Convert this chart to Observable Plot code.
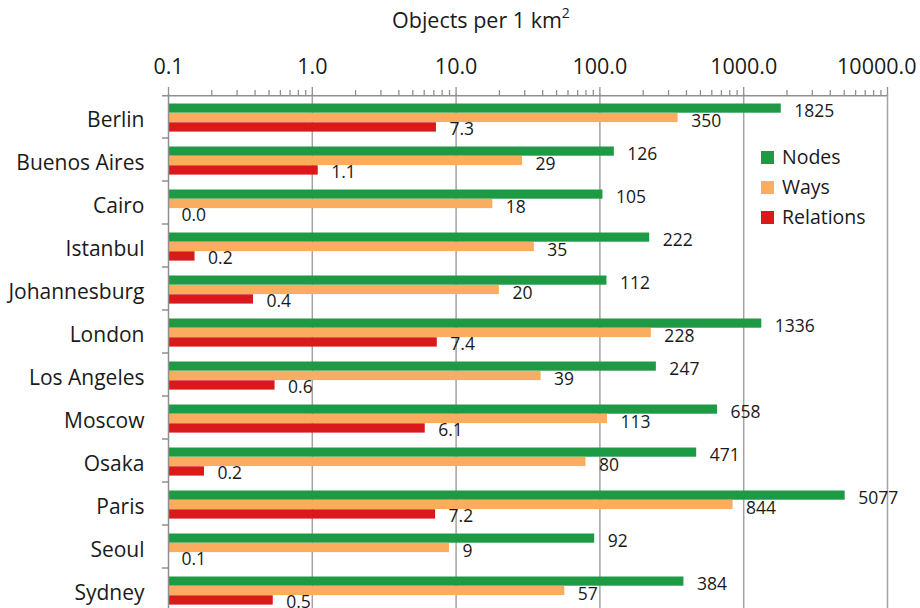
<!DOCTYPE html>
<html><head><meta charset="utf-8">
<script src="https://cdn.jsdelivr.net/npm/d3@7"></script>
<script src="https://cdn.jsdelivr.net/npm/@observablehq/plot@0.6"></script>
<style>
html,body{margin:0;padding:0;background:#fff;overflow:hidden;}
#wrap{position:relative;width:920px;height:608px;overflow:hidden;font-family:"Open Sans",sans-serif;color:#1a1a1a;}
#title{position:absolute;top:5px;left:392px;font-size:21.5px;white-space:nowrap;}
#title sup{font-size:14px;vertical-align:10px;line-height:0;}
#legend{position:absolute;left:761px;top:142px;font-size:19.5px;line-height:30px;}
#legend div{display:flex;align-items:center;}
#legend span.sw{display:inline-block;width:13px;height:13px;margin-right:8px;}
#chart{position:absolute;left:0;top:0;}
</style>
</head><body>
<div id="wrap">
  <div id="chart"></div>
  <div id="title">Objects per 1 km<sup>2</sup></div>
  <div id="legend"></div>
</div>
<script>
(function(){
// ---- data ----
const cities = ["Berlin","Buenos Aires","Cairo","Istanbul","Johannesburg","London","Los Angeles","Moscow","Osaka","Paris","Seoul","Sydney"];
const nodes     = [1825, 126, 105, 222, 112, 1336, 247, 658, 471, 5077, 92, 384];
const ways      = [350, 29, 18, 35, 20, 228, 39, 113, 80, 844, 9, 57];
const relations = [7.3, 1.1, 0.04, 0.153, 0.39, 7.4, 0.551, 6.1, 0.178, 7.2, 0.06, 0.535];
const seriesNames = ["Nodes","Ways","Relations"];
const seriesColors = ["#1e9944","#fbad5f","#d9191c"];
const majorTicks = [0.1, 1, 10, 100, 1000, 10000];
const tickLabels = ["0.1","1.0","10.0","100.0","1000.0","10000.0"];

// ---- table ----
const rows = [];
cities.forEach((c, i) => {
  rows.push({city: c, series: "Nodes", value: nodes[i], label: String(Math.round(nodes[i]))});
  rows.push({city: c, series: "Ways", value: ways[i], label: String(Math.round(ways[i]))});
  rows.push({city: c, series: "Relations", value: relations[i], label: relations[i].toFixed(1)});
});
const xmin = majorTicks[0], xmax = majorTicks[majorTicks.length-1];
const minorTicks = d3.scaleLog().domain([xmin, xmax]).ticks()
  .filter(t => !majorTicks.some(m => Math.abs(m - t) / m < 1e-9));

const insets = {Nodes: [8.5, 25.3], Ways: [17.9, 15.9], Relations: [27.3, 6.4]};
const labelDy = {Nodes: -6, Ways: 4, Relations: 12};

const barMarks = seriesNames.map((s, k) => Plot.barX(rows.filter(d => d.series === s), {
  x1: xmin, x2: d => Math.max(d.value, xmin), y: "city",
  fill: seriesColors[k], insetTop: insets[s][0], insetBottom: insets[s][1]
}));
const textMarks = seriesNames.map(s => Plot.text(rows.filter(d => d.series === s), {
  x: d => Math.max(d.value, xmin), y: "city", text: "label",
  textAnchor: "start", dx: 13, dy: labelDy[s], fontSize: 17.5, fill: "#1a1a1a"
}));
const fmt = d => tickLabels[majorTicks.indexOf(d)];

const chart = Plot.plot({
  width: 920, height: 620,
  marginLeft: 168, marginRight: 33, marginTop: 94, marginBottom: 9,
  style: {fontFamily: "'Open Sans', sans-serif", background: "#fff", color: "#1a1a1a"},
  x: {type: "log", domain: [xmin, xmax]},
  y: {domain: cities, padding: 0},
  marks: [
    Plot.ruleX(majorTicks.slice(1), {stroke: "#a3a3a3", strokeWidth: 1.5}),
    ...barMarks,
    ...textMarks,
    Plot.ruleX([xmin], {stroke: "#8f8f8f", strokeWidth: 1.5}),
    Plot.axisX(minorTicks, {anchor: "top", tickSize: 5, stroke: "#8f8f8f", strokeWidth: 1.3, fill: "none", label: null, tickFormat: () => ""}),
    Plot.axisX(majorTicks, {anchor: "top", tickSize: 8, stroke: "#8f8f8f", strokeWidth: 1.3, fill: "none", label: null, tickFormat: () => ""}),
    Plot.axisX(majorTicks.slice(0, -1), {anchor: "top", tickSize: 8, tickPadding: 13, fontSize: 21.5, stroke: "none", fill: "#1a1a1a", label: null, tickFormat: fmt}),
    Plot.axisX([xmax], {anchor: "top", tickSize: 8, tickPadding: 13, fontSize: 21.5, stroke: "none", fill: "#1a1a1a", label: null,
      textAnchor: "end", dx: 29, tickFormat: fmt}),
    Plot.axisY({anchor: "left", tickSize: 0, tickPadding: 24, fontSize: 21, dy: 3.5, fill: "#1a1a1a", label: null})
  ]
});
document.getElementById("chart").appendChild(chart);

// axis line on top and category boundary ticks, from the chart's own scales
const xs = chart.scale("x"), ys = chart.scale("y");
const svg = d3.select(chart);
const yTop = ys.range[0] + 1.7;
const xL = xs.apply(xmin), xR = xs.apply(xmax);
const g = svg.append("g").attr("stroke", "#8f8f8f").attr("stroke-width", 1.5);
g.append("line").attr("x1", xL - 6).attr("x2", xR).attr("y1", yTop).attr("y2", yTop);
cities.forEach(c => {
  const yb = ys.apply(c) + ys.step;
  g.append("line").attr("x1", xL - 6).attr("x2", xL).attr("y1", yb).attr("y2", yb);
});

// legend
const leg = document.getElementById("legend");
seriesNames.forEach((s, k) => {
  const d = document.createElement("div");
  d.innerHTML = `<span class="sw" style="background:${seriesColors[k]}"></span>${s}`;
  leg.appendChild(d);
});
})();
</script>
</body></html>
